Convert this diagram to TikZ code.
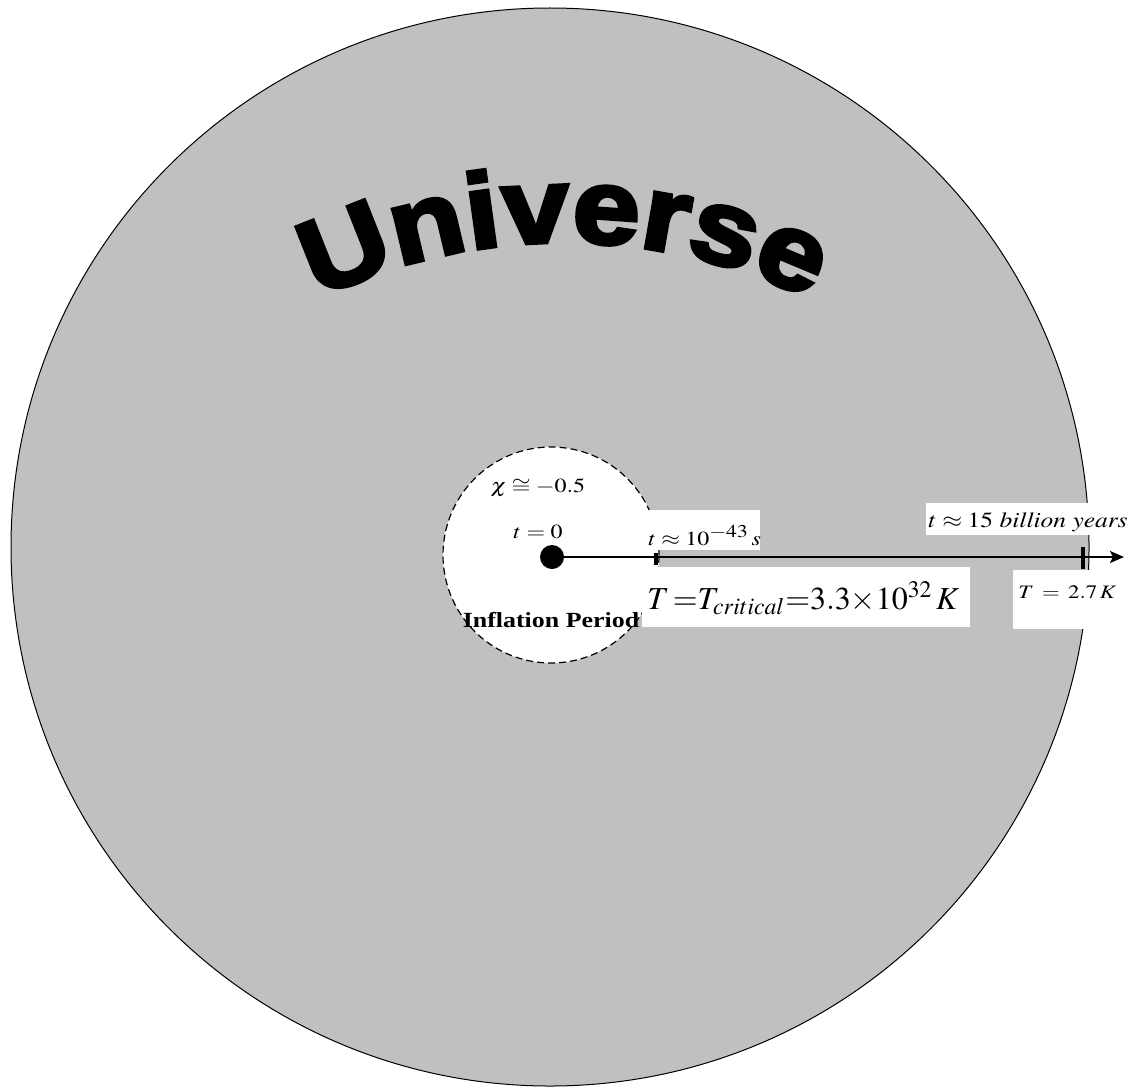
\documentclass[tikz,border=0pt]{standalone}
\usepackage{mathptmx}
\usepackage{fontspec}
\usepackage{graphicx}
\setmainfont{Liberation Serif}
\newfontfamily\unifont{Liberation Sans}[BoldFeatures={FakeBold=4, FakeStretch=1.14}]
\usetikzlibrary{arrows, arrows.meta, decorations.text}
\definecolor{univgray}{HTML}{C0C0C0}
\DeclareMathSizes{10}{10}{9}{7}
\newcommand{\wide}[1]{\scalebox{1.2}[1]{#1}}

\begin{document}
\begin{tikzpicture}[x=0.5pt, y=0.5pt]
        \tikzstyle{lbl} = [inner sep=0pt, anchor=base]
        \tikzstyle{lblw} = [inner sep=0pt, anchor=base west]
        \tikzstyle{whitebox} = [rectangle, fill=white, inner sep=0pt]
        \tikzstyle{tick} = [line width=1.8pt]
        \useasboundingbox (0,0) rectangle (1133,-1086);
        % the universe and the inflation bubble
        \node (universe) [circle, draw, line width=0.5pt, fill=univgray, inner sep=0pt, minimum size=539pt] at (550,-547) {};
        \node (inflation) [circle, draw, dash pattern=on 3.5pt off 2pt, line width=0.6pt, fill=white, inner sep=0pt, minimum size=108pt] at (551,-555) {};
        % time axis
        \node (bang) [circle, fill=black, inner sep=0pt, minimum size=12pt] at (552,-557) {};
        \coordinate (now) at (1124,-557);
        \coordinate (planck) at (656,-557);
        \coordinate (today) at (1083,-557);
        \draw [line width=1.2pt, -{Stealth[length=7pt, width=6pt, inset=1.5pt]}] (bang.center) -- (now);
        \draw [tick] (planck) ++(0,4) -- ++(0,-12);
        \draw [tick, line width=2.4pt] (today) ++(0,10) -- ++(0,-22);
        % white label boxes
        \node (boxA) [whitebox, minimum width=58.5pt, minimum height=20pt] at (701.5,-530) {};
        \node (boxB) [whitebox, minimum width=164pt, minimum height=30pt] at (806,-597) {};
        \node (boxC) [whitebox, minimum width=112pt, minimum height=16pt] at (1038,-519) {};
        \node (boxD) [whitebox, minimum width=68.5pt, minimum height=29.5pt] at (1081.5,-599.5) {};
        % labels
        \node (chi) [lbl] at (538,-492) {\wide{$\chi\cong-0.5$}};
        \node (tzero) [lbl] at (538,-538) {\wide{$t=0$}};
        \node (inflabel) [lbl, font=\bfseries\fontsize{10.8}{12}\selectfont] at (551,-627) {\wide{Inflation Period}};
        \node (tplanck) [lblw] at (648,-545) {\wide{$t\approx 10^{-43}\,s$}};
        \node (tcrit) [lblw, font=\fontsize{16}{19}\selectfont] at (647,-609) {$T\,{=}T_{critical}{=}3.3{\times}10^{32}\,K$};
        \node (tnow) [lblw, font=\fontsize{10.8}{12}\selectfont] at (928,-527) {\scalebox{1.18}[1]{$t\approx 15\ \mathit{billion\ years}$}};
        \node (tempnow) [lblw, font=\fontsize{9.5}{11}\selectfont] at (1018,-598) {\wide{$T\:=\:2.7\,K$}};
        % curved title
        \coordinate (arcc) at (564,-802);
        \path [decorate, decoration={text along path, text align=center,
            text={|\unifont\bfseries\fontsize{53}{53}\selectfont|Universe}}]
            (arcc) ++(125:560) arc[start angle=125, end angle=55, radius=560];
\end{tikzpicture}
\end{document}
